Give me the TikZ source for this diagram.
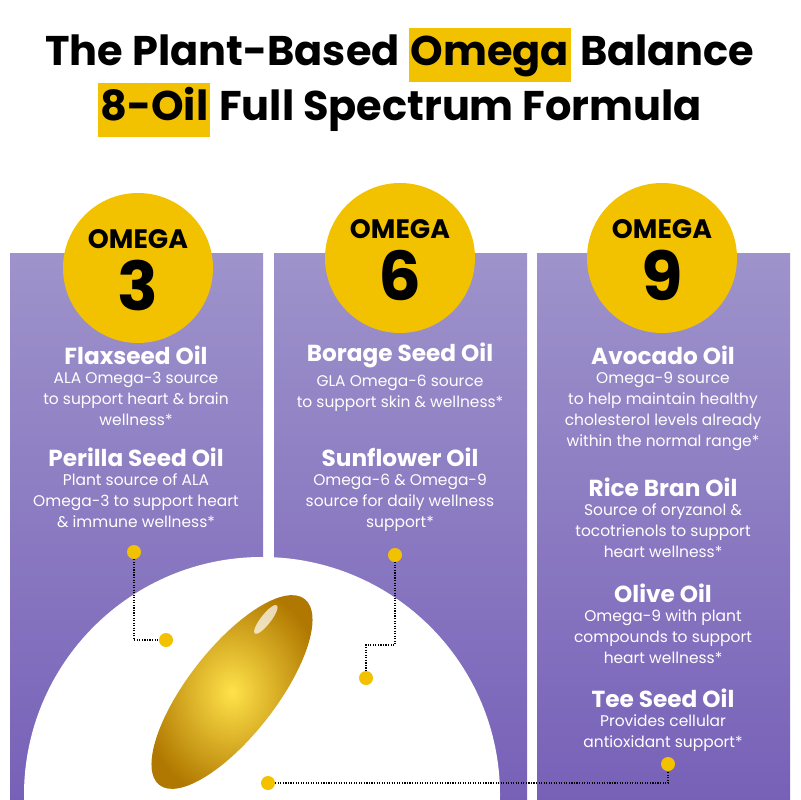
\documentclass[tikz,border=0pt]{standalone}
\usepackage{fontspec}
\setmainfont{Poppins}
\usetikzlibrary{positioning,calc}
\definecolor{omegaYellow}{HTML}{F2C200}
\definecolor{panelTop}{HTML}{9E93CB}
\definecolor{panelBot}{HTML}{7761B8}
\definecolor{capDark}{HTML}{B07800}
\definecolor{capLight}{HTML}{FFE24A}
\newcommand{\hlword}[1]{{\setlength{\fboxsep}{1.5pt}\colorbox{omegaYellow}{\strut #1}}}
\tikzset{
    badge/.style = {circle, fill=omegaYellow, minimum size=150*0.025cm, inner sep=0pt},
    oilName/.style = {text=white, font=\fontsize{16.5}{18}\selectfont\bfseries, inner sep=0pt},
    oilInfo/.style = {text=white, font=\fontsize{11}{15}\selectfont, align=center, inner sep=0pt},
    dot/.style = {circle, fill=omegaYellow, minimum size=14*0.025cm, inner sep=0pt},
    leader/.style = {densely dotted, thick, black},
}
\begin{document}
\begin{tikzpicture}[x=0.025cm, y=-0.025cm]
	\useasboundingbox (0,0) rectangle (800,800);
	\fill[white] (0,0) rectangle (800,800);

	% title
	\node[font=\fontsize{29.5}{36}\selectfont\bfseries, inner sep=0pt] (title1) at (400,55) {The Plant-Based \hlword{Omega} Balance};
	\node[font=\fontsize{29.5}{36}\selectfont\bfseries, inner sep=0pt] (title2) at (400,110) {\hlword{8-Oil} Full Spectrum Formula};

	% panels
	\shade[top color=panelTop, bottom color=panelBot] (10,253) rectangle (263,800);
	\shade[top color=panelTop, bottom color=panelBot] (274,253) rectangle (527,800);
	\shade[top color=panelTop, bottom color=panelBot] (537,253) rectangle (790,800);

	% badges
	\foreach \n/\cx/\cy in {3/138/268, 6/400/258, 9/662/258}{
		\node[badge] (badge\n) at (\cx,\cy) {};
		\node[font=\fontsize{19}{22}\selectfont\bfseries, inner sep=0pt] at ($(badge\n)+(0,-29)$) {OMEGA};
		\node[font=\fontsize{48}{50}\selectfont\bfseries, inner sep=0pt] at ($(badge\n)+(0,17)$) {\n};
	}

	% column 1
	\node[oilName] (flax) at (136,355) {Flaxseed Oil};
	\node[oilInfo, below=5pt of flax] (flaxInfo) {ALA Omega-3 source\\to support heart \& brain\\wellness*};
	\node[oilName] (perilla) at (136,457) {Perilla Seed Oil};
	\node[oilInfo, below=5pt of perilla] (perillaInfo) {Plant source of ALA\\Omega-3 to support heart\\\& immune wellness*};

	% column 2
	\node[oilName] (borage) at (400,355) {Borage Seed Oil};
	\node[oilInfo, below=5pt of borage] (borageInfo) {GLA Omega-6 source\\to support skin \& wellness*};
	\node[oilName] (sunflower) at (400,457) {Sunflower Oil};
	\node[oilInfo, below=5pt of sunflower] (sunflowerInfo) {Omega-6 \& Omega-9\\source for daily wellness\\support*};

	% column 3
	\node[oilName] (avocado) at (663,355) {Avocado Oil};
	\node[oilInfo, below=5pt of avocado] (avocadoInfo) {Omega-9 source\\to help maintain healthy\\cholesterol levels already\\within the normal range*};
	\node[oilName] (rice) at (663,487) {Rice Bran Oil};
	\node[oilInfo, below=5pt of rice] (riceInfo) {Source of oryzanol \&\\tocotrienols to support\\heart wellness*};
	\node[oilName] (olive) at (663,593) {Olive Oil};
	\node[oilInfo, below=5pt of olive] (oliveInfo) {Omega-9 with plant\\compounds to support\\heart wellness*};
	\node[oilName] (tee) at (663,698) {Tee Seed Oil};
	\node[oilInfo, below=5pt of tee] (teeInfo) {Provides cellular\\antioxidant support*};

	% white disc and capsule
	\fill[white] (262,795) circle (238);
	\begin{scope}[shift={(232,692)}, rotate=52]
		\shade[inner color=capLight, outer color=capDark] (0,0) ellipse (118 and 44);
		\fill[white, opacity=0.7] (78,-18) ellipse (18 and 5);
	\end{scope}

	% leaders
	\node[dot] (d1a) at (134,552) {};
	\node[dot] (d1b) at (166,640) {};
	\node[dot] (d2a) at (395,555) {};
	\node[dot] (d2b) at (366,678) {};
	\node[dot] (d3a) at (668,764) {};
	\node[dot] (d3b) at (268,783) {};
	\coordinate (k2) at (395,645);
	\draw[leader] (d1a) |- (d1b);
	\draw[leader] (d2a) -- (k2) -| (d2b);
	\draw[leader] (d3b) -| (d3a);
\end{tikzpicture}
\end{document}
